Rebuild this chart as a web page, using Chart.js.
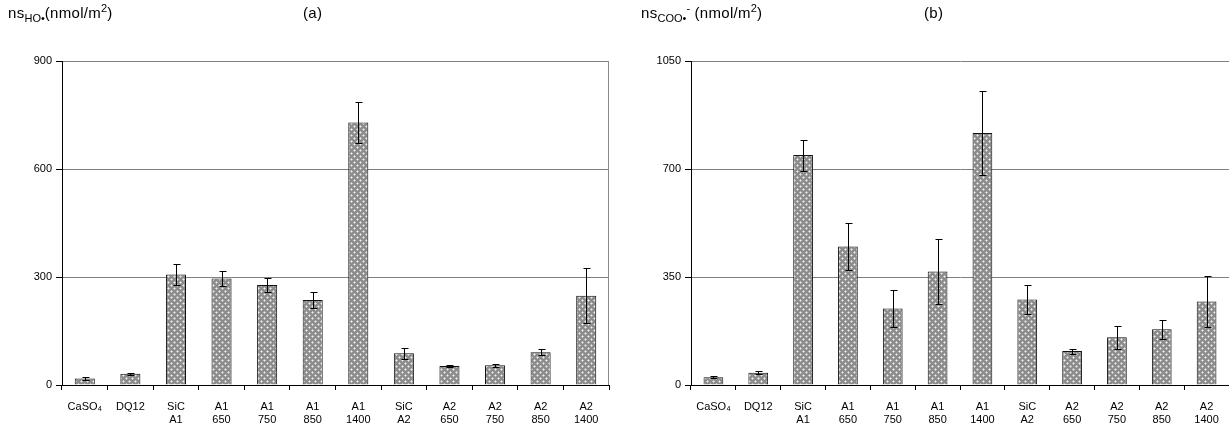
<!DOCTYPE html>
<html>
<head>
<meta charset="utf-8">
<script src="https://cdn.jsdelivr.net/npm/chart.js@4"></script>
<style>
  html, body { margin:0; padding:0; background:#fff; }
  body { width:1229px; height:425px; position:relative; overflow:hidden; font-family:"Liberation Sans", Arial, sans-serif; }
  .wrap { position:absolute; top:0; height:425px; }
  .title { position:absolute; top:4px; font-size:15px; line-height:18px; color:#000; white-space:nowrap; letter-spacing:0.3px; }
  .title sub, .title sup { font-size:11px; letter-spacing:0; line-height:0; }
</style>
</head>
<body>
<div class="wrap" style="left:0;width:614px;"><canvas id="ca" width="614" height="425"></canvas></div>
<div class="wrap" style="left:614px;width:615px;"><canvas id="cb" width="615" height="425"></canvas></div>
<div class="title" style="left:8px;">ns<sub>HO•</sub>(nmol/m<sup>2</sup>)</div>
<div class="title" style="left:303px;">(a)</div>
<div class="title" style="left:641px;">ns<sub>COO•</sub><sup>-</sup> (nmol/m<sup>2</sup>)</div>
<div class="title" style="left:924px;">(b)</div>
<script>
// ---- data ----
const categories = [["CaSO₄"], ["DQ12"], ["SiC", "A1"], ["A1", "650"], ["A1", "750"], ["A1", "850"], ["A1", "1400"], ["SiC", "A2"], ["A2", "650"], ["A2", "750"], ["A2", "850"], ["A2", "1400"]];
const valuesA = [18, 31, 307, 296, 278, 236, 729, 88, 53, 55, 91, 248];
const errorsA = [3, 3, 30, 20, 19, 21, 58, 15, 3, 4, 8, 77];
const valuesB = [25, 40, 745, 449, 248, 368, 817, 277, 110, 155, 181, 271];
const errorsB = [3, 4, 50, 75, 59, 104, 136, 48, 8, 37, 31, 82];
const ticksA = [0, 300, 600, 900];
const ticksB = [0, 350, 700, 1050];

// ---- pattern ----
function makePattern() {
  const c = document.createElement('canvas');
  c.width = 6; c.height = 6;
  const g = c.getContext('2d');
  g.fillStyle = '#8c8c8c'; g.fillRect(0, 0, 6, 6);
  function cross(x, y) {
    g.fillStyle = '#c4c4c4';
    [[0,-1],[-1,0],[1,0],[0,1]].forEach(([dx,dy]) => {
      g.fillRect((x+dx+6)%6, (y+dy+6)%6, 1, 1);
    });
    g.fillStyle = '#eeeeee'; g.fillRect(x, y, 1, 1);
  }
  cross(0, 0); cross(3, 3);
  return g.createPattern(c, 'repeat');
}
const pattern = makePattern();

const errorBarPlugin = {
  id: 'errbars',
  afterDatasetsDraw(chart, args, opts) {
    const ctx = chart.ctx;
    const meta = chart.getDatasetMeta(0);
    const ys = chart.scales.y;
    const errs = opts.errors;
    const vals = chart.data.datasets[0].data;
    ctx.save();
    ctx.strokeStyle = '#000';
    ctx.lineWidth = 1;
    meta.data.forEach((bar, i) => {
      const x = Math.round(bar.x) + 0.5;
      const yt = Math.round(ys.getPixelForValue(vals[i] + errs[i])) + 0.5;
      const yb = Math.round(ys.getPixelForValue(vals[i] - errs[i])) + 0.5;
      ctx.beginPath();
      ctx.moveTo(x, yt); ctx.lineTo(x, yb);
      ctx.moveTo(x - 3, yt); ctx.lineTo(x + 4, yt);
      ctx.moveTo(x - 3, yb); ctx.lineTo(x + 4, yb);
      ctx.stroke();
    });
    ctx.restore();
  }
};

const frameRightPlugin = {
  id: 'frameRight',
  beforeDatasetsDraw(chart, args, opts) {
    if (!opts.show) return;
    const a = chart.chartArea, ctx = chart.ctx;
    ctx.save();
    ctx.strokeStyle = '#8a8a8a';
    ctx.lineWidth = 1;
    ctx.beginPath();
    const x = Math.round(a.right) - 0.5;
    ctx.moveTo(x, a.top); ctx.lineTo(x, a.bottom);
    ctx.stroke();
    ctx.restore();
  }
};

function makeChart(id, values, errors, ticks, yWidth, padRight, showFrame) {
  const font = { family: '"Liberation Sans", Arial, sans-serif', size: 11 };
  return new Chart(document.getElementById(id), {
    type: 'bar',
    data: {
      labels: categories,
      datasets: [{
        data: values,
        backgroundColor: pattern,
        borderColor: '#111',
        borderWidth: 1,
        categoryPercentage: 1,
        barPercentage: 0.44
      }]
    },
    options: {
      responsive: false,
      animation: false,
      events: [],
      layout: { padding: { left: 0, right: padRight, top: 61, bottom: 0 } },
      plugins: {
        legend: { display: false },
        tooltip: { enabled: false },
        errbars: { errors: errors },
        frameRight: { show: showFrame }
      },
      scales: {
        x: {
          grid: { display: true, offset: true, drawOnChartArea: false, tickLength: 5, tickColor: '#000' },
          border: { color: '#000', width: 1 },
          ticks: { color: '#000', font: font, maxRotation: 0, autoSkip: false, padding: 10 },
          afterFit(s) { s.height = 40; }
        },
        y: {
          min: ticks[0],
          max: ticks[ticks.length - 1],
          afterBuildTicks(s) { s.ticks = ticks.map(v => ({ value: v })); },
          grid: { color: '#808080', tickColor: '#000', tickLength: 6, lineWidth: 1 },
          border: { color: '#000', width: 1 },
          ticks: { color: '#000', font: font, padding: 4, callback: v => String(v) },
          afterFit(s) { s.width = yWidth; }
        }
      }
    },
    plugins: [errorBarPlugin, frameRightPlugin]
  });
}

makeChart('ca', valuesA, errorsA, ticksA, 62, 5, true);
makeChart('cb', valuesB, errorsB, ticksB, 77, 0, false);
</script>
</body>
</html>
